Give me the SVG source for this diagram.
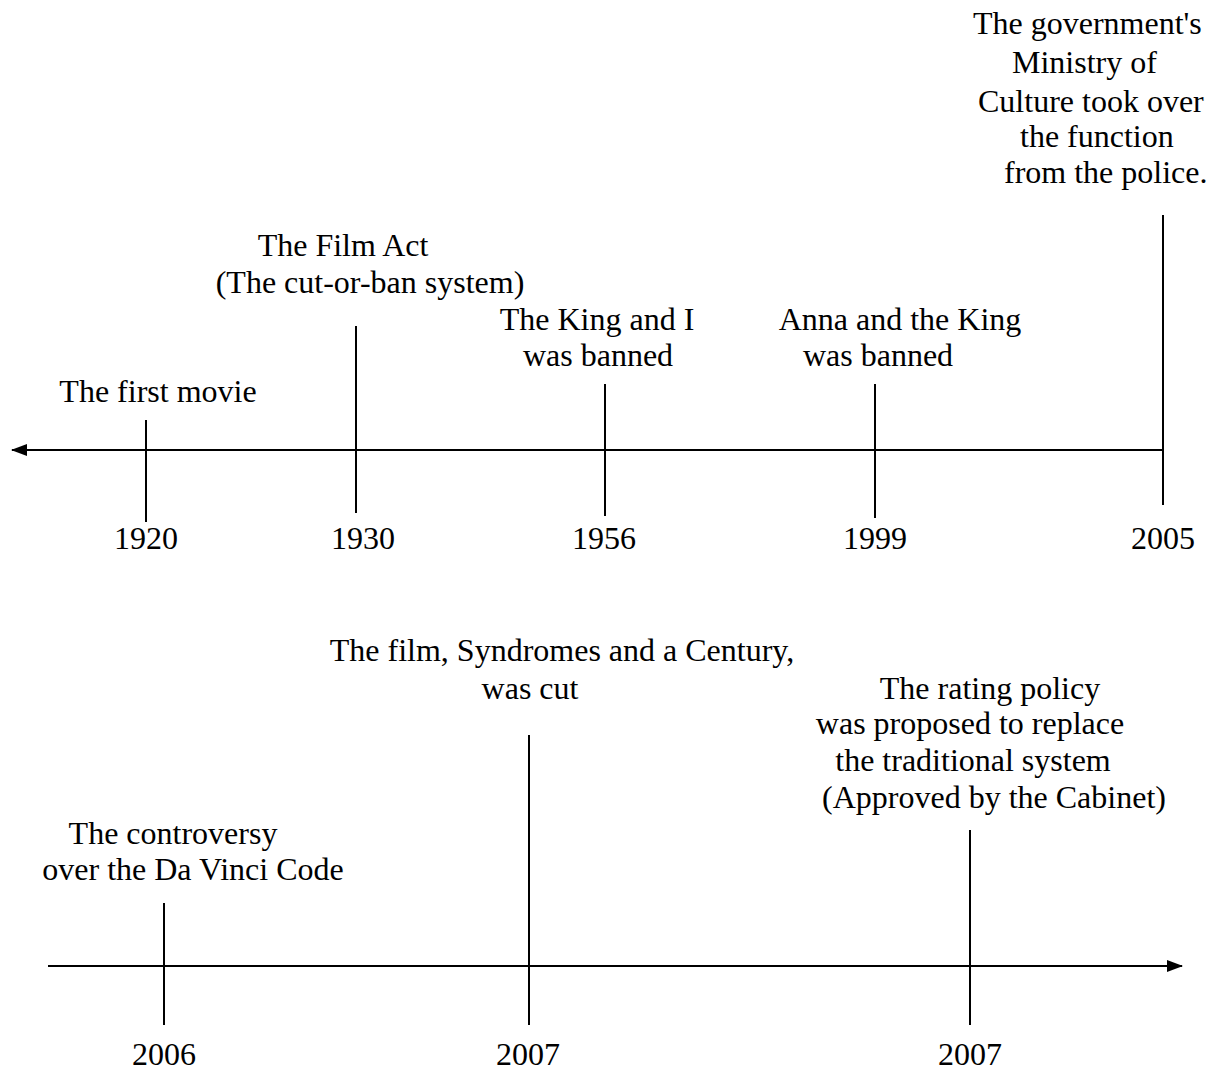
<svg xmlns="http://www.w3.org/2000/svg" width="1212" height="1070" viewBox="0 0 1212 1070">
<style>
text{font-family:"Liberation Serif","Times New Roman",serif;font-size:32px;fill:#000;text-anchor:middle}
text.l{text-anchor:start}
line{stroke:#000;stroke-width:2}
</style>
<defs>
<marker id="ah" viewBox="0 0 16 12" refX="15" refY="6" markerWidth="16" markerHeight="12" markerUnits="userSpaceOnUse" orient="auto">
<path d="M0,0 L16,6 L0,12 Z" fill="#000"/>
</marker>
</defs>
<rect width="1212" height="1070" fill="#fff"/>
<g id="connectors">
<line x1="1163" y1="450" x2="12" y2="450" marker-end="url(#ah)"/>
<line x1="48" y1="966" x2="1182" y2="966" marker-end="url(#ah)"/>
</g>
<g id="e1920"><line x1="146" y1="420" x2="146" y2="522"/><text x="158" y="402">The first movie</text><text x="146" y="549">1920</text></g>
<g id="e1930"><line x1="356" y1="326" x2="356" y2="513"/><text x="343" y="256">The Film Act</text><text x="370" y="293">(The cut-or-ban system)</text><text x="363" y="549">1930</text></g>
<g id="e1956"><line x1="605" y1="384" x2="605" y2="516"/><text x="597" y="330">The King and I</text><text x="598" y="366">was banned</text><text x="604" y="549">1956</text></g>
<g id="e1999"><line x1="875" y1="384" x2="875" y2="518"/><text x="900" y="330">Anna and the King</text><text x="878" y="366">was banned</text><text x="875" y="549">1999</text></g>
<g id="e2005"><line x1="1163" y1="215" x2="1163" y2="505"/><text class="l" x="973" y="34">The government's</text><text class="l" x="1012" y="73">Ministry of</text><text class="l" x="978" y="112">Culture took over</text><text class="l" x="1020" y="147">the function</text><text class="l" x="1004" y="183">from the police.</text><text x="1163" y="549">2005</text></g>
<g id="e2006"><line x1="164" y1="903" x2="164" y2="1025"/><text x="173" y="844">The controversy</text><text x="193" y="880">over the Da Vinci Code</text><text x="164" y="1065">2006</text></g>
<g id="e2007a"><line x1="529" y1="735" x2="529" y2="1025"/><text x="562" y="661">The film, Syndromes and a Century,</text><text x="530" y="699">was cut</text><text x="528" y="1065">2007</text></g>
<g id="e2007b"><line x1="970" y1="830" x2="970" y2="1025"/><text x="990" y="699">The rating policy</text><text x="970" y="734">was proposed to replace</text><text x="973" y="771">the traditional system</text><text x="994" y="808">(Approved by the Cabinet)</text><text x="970" y="1065">2007</text></g>
</svg>
